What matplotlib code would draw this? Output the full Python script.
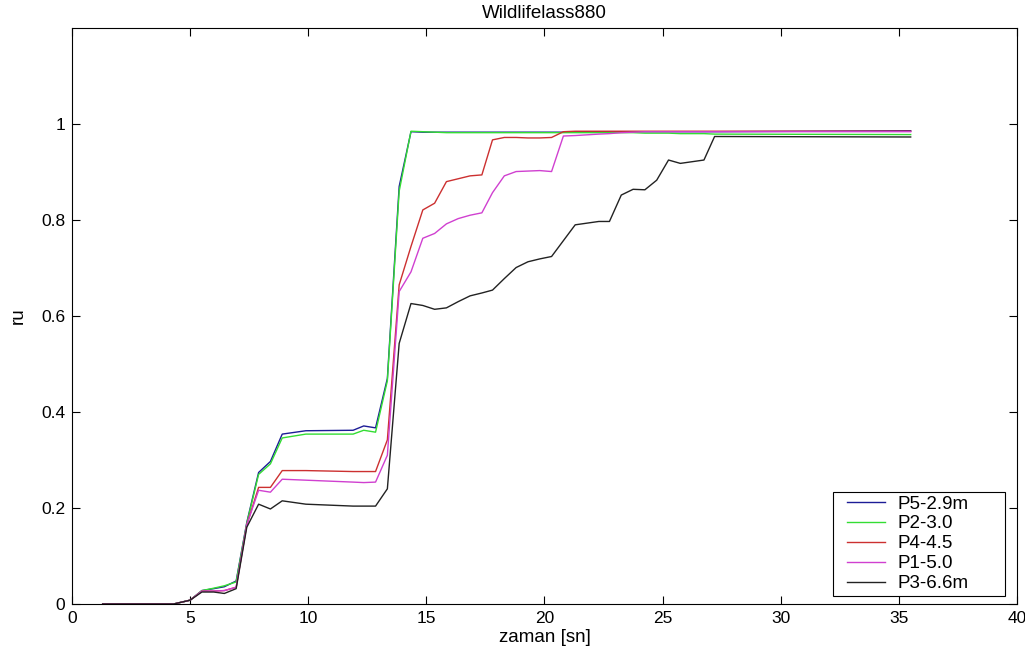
import matplotlib
matplotlib.use("Agg")
import matplotlib.pyplot as plt
from matplotlib.lines import Line2D
from matplotlib.legend_handler import HandlerLine2D

plt.rcParams['font.family'] = ['Liberation Sans', 'DejaVu Sans']

# sample times [s]
t = [1.3, 4.3, 5.0, 5.5, 6.0, 6.45, 6.95, 7.4, 7.9, 8.4, 8.9, 9.9, 11.9,
     12.35, 12.85, 13.35, 13.85, 14.35, 14.85, 15.35, 15.85, 16.35, 16.85,
     17.35, 17.8, 18.3, 18.8, 19.3, 19.8, 20.3, 20.8, 21.3, 22.3, 22.75,
     23.25, 23.75, 24.25, 24.75, 25.25, 25.75, 26.75, 27.2, 35.5]

# pore pressure ratio per piezometer
p5 = [0.0, 0.0, 0.008, 0.028, 0.032, 0.036, 0.048, 0.17, 0.274, 0.297, 0.354,
      0.361, 0.362, 0.371, 0.367, 0.47, 0.87, 0.984, 0.983, 0.983, 0.983,
      0.983, 0.983, 0.983, 0.983, 0.983, 0.983, 0.983, 0.983, 0.983, 0.983,
      0.984, 0.984, 0.984, 0.984, 0.984, 0.984, 0.984, 0.984, 0.984, 0.984,
      0.984, 0.986]
p2 = [0.0, 0.0, 0.008, 0.028, 0.033, 0.038, 0.046, 0.168, 0.27, 0.292, 0.346,
      0.354, 0.354, 0.362, 0.358, 0.465, 0.86, 0.985, 0.984, 0.983, 0.982,
      0.982, 0.982, 0.982, 0.982, 0.982, 0.982, 0.982, 0.982, 0.982, 0.982,
      0.982, 0.982, 0.982, 0.982, 0.982, 0.981, 0.981, 0.981, 0.98, 0.98,
      0.979, 0.978]
p4 = [0.0, 0.0, 0.008, 0.027, 0.027, 0.028, 0.035, 0.165, 0.243, 0.243, 0.278,
      0.278, 0.276, 0.276, 0.276, 0.342, 0.665, 0.745, 0.821, 0.835, 0.88,
      0.886, 0.892, 0.894, 0.967, 0.972, 0.972, 0.971, 0.971, 0.972, 0.984,
      0.985, 0.985, 0.985, 0.985, 0.985, 0.985, 0.985, 0.985, 0.985, 0.985,
      0.985, 0.985]
p1 = [0.0, 0.0, 0.008, 0.027, 0.027, 0.028, 0.035, 0.165, 0.237, 0.233, 0.26,
      0.258, 0.254, 0.253, 0.254, 0.31, 0.651, 0.692, 0.762, 0.772, 0.792,
      0.803, 0.81, 0.815, 0.857, 0.892, 0.901, 0.902, 0.903, 0.901, 0.975,
      0.976, 0.979, 0.98, 0.982, 0.983, 0.984, 0.984, 0.984, 0.984, 0.984,
      0.984, 0.984]
p3 = [0.0, 0.0, 0.008, 0.025, 0.025, 0.022, 0.032, 0.16, 0.208, 0.198, 0.215,
      0.208, 0.204, 0.204, 0.204, 0.24, 0.543, 0.626, 0.622, 0.614, 0.617,
      0.63, 0.642, 0.648, 0.654, 0.678, 0.701, 0.713, 0.719, 0.724, 0.757,
      0.79, 0.797, 0.797, 0.852, 0.864, 0.863, 0.883, 0.925, 0.918, 0.925,
      0.974, 0.973]

labels = ['P5-2.9m', 'P2-3.0', 'P4-4.5', 'P1-5.0', 'P3-6.6m']
colors = ['#1c1c96', '#33dd33', '#cc3030', '#d040d0', '#222222']
series = [p5, p2, p4, p1, p3]

fig = plt.figure(figsize=(10.25, 6.61), dpi=100)
ax = fig.add_axes([0.0702, 0.0862, 0.922, 0.8714])

for vals, lab, col in zip(series, labels, colors):
    ax.plot(t, vals, color=col, lw=1.0, label=lab)

ax.set_xlim(0, 40)
ax.set_ylim(0, 1.2)
ax.set_xticks(range(0, 41, 5))
ax.set_yticks([0, 0.2, 0.4, 0.6, 0.8, 1.0])
ax.set_yticklabels(['0', '0.2', '0.4', '0.6', '0.8', '1'])
ax.tick_params(direction='in', length=6, width=0.8, top=True, right=True,
               labelsize=12.5, pad=5)
for s in ax.spines.values():
    s.set_linewidth(0.8)

ax.set_title('Wildlifelass880', fontsize=13.5, pad=7)
ax.set_xlabel('zaman [sn]', fontsize=13.5, labelpad=2)
ax.set_ylabel('ru', fontsize=13.5, labelpad=10)

# boxed legend stretched to a fixed width in the lower right corner
leg = ax.legend(loc='lower left', mode='expand', fontsize=13.5, frameon=True,
                fancybox=False, edgecolor='black', framealpha=1,
                borderpad=0.2, handlelength=2.56, labelspacing=0.15,
                handletextpad=0.7, borderaxespad=0,
                bbox_to_anchor=(0.8053, 0.0139, 0.182, 0.2),
                handler_map={Line2D: HandlerLine2D(xpad=0.53)})
leg.get_frame().set_linewidth(0.8)

fig.savefig('out.png', dpi=100)
